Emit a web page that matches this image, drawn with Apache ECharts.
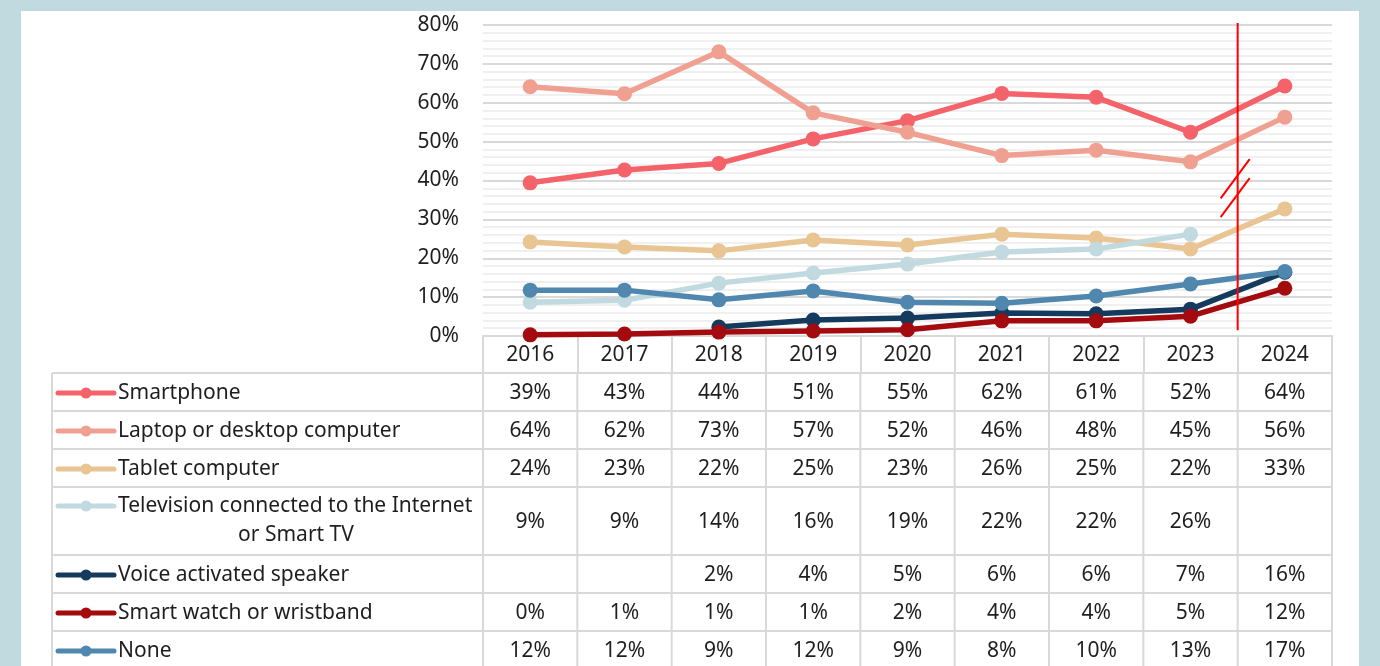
<!DOCTYPE html>
<html>
<head>
<meta charset="utf-8">
<script src="https://cdn.jsdelivr.net/npm/echarts@6/dist/echarts.min.js"></script>
<style>
  html, body { margin: 0; padding: 0; background: #c1dadf; }
  #panel { position: absolute; left: 21px; top: 11px; width: 1338px; height: 655px; background: #fff; }
  #chart { position: absolute; left: 0; top: 0; width: 1380px; height: 666px; }
</style>
</head>
<body>
<div id="panel"></div>
<div id="chart"></div>
<script>
const years = ['2016', '2017', '2018', '2019', '2020', '2021', '2022', '2023', '2024'];

// values (the table shows them rounded)
const smartphone = [39.4, 42.7, 44.4, 50.7, 55.4, 62.4, 61.4, 52.4, 64.3];
const laptop = [64.1, 62.3, 73.1, 57.4, 52.4, 46.4, 47.8, 44.8, 56.3];
const tablet = [24.2, 22.9, 21.9, 24.7, 23.4, 26.2, 25.2, 22.4, 32.7];
const smartTv = [8.7, 9.2, 13.6, 16.2, 18.5, 21.6, 22.4, 26.2, null];
const speaker = [null, null, 2.3, 4.1, 4.6, 5.9, 5.7, 6.9, 16.4];
const watch = [0.3, 0.5, 1.0, 1.3, 1.6, 3.9, 3.9, 5.1, 12.3];
const none = [11.8, 11.8, 9.3, 11.6, 8.7, 8.4, 10.3, 13.4, 16.6];

const rows = [
  { name: 'Smartphone', lines: ['Smartphone'], data: smartphone, color: '#f5636a', h: 38 },
  { name: 'Laptop or desktop computer', lines: ['Laptop or desktop computer'], data: laptop, color: '#f0a091', h: 38 },
  { name: 'Tablet computer', lines: ['Tablet computer'], data: tablet, color: '#e8c593', h: 38 },
  { name: 'Television connected to the Internet or Smart TV', lines: ['Television connected to the Internet', 'or Smart TV'], data: smartTv, color: '#c1dadf', h: 68 },
  { name: 'Voice activated speaker', lines: ['Voice activated speaker'], data: speaker, color: '#143a5e', h: 38 },
  { name: 'Smart watch or wristband', lines: ['Smart watch or wristband'], data: watch, color: '#a30b0f', h: 38 },
  { name: 'None', lines: ['None'], data: none, color: '#4f87ae', h: 38 }
];

const FONT = "'Noto Sans', 'DejaVu Sans', sans-serif";
const FS = 21;
const TXT = '#1e1e1e';
const BORDER = '#d9d9d9';

const chart = echarts.init(document.getElementById('chart'));

chart.setOption({
  animation: false,
  backgroundColor: 'transparent',
  textStyle: { fontFamily: FONT },
  grid: { left: 483, right: 48, top: 25, bottom: 330 },
  xAxis: {
    type: 'category',
    data: years,
    boundaryGap: true,
    axisLine: { lineStyle: { color: BORDER, width: 2 } },
    axisTick: { show: true, length: 37, interval: 0, lineStyle: { color: BORDER, width: 2 } },
    axisLabel: { color: TXT, fontSize: FS, margin: 9, fontFamily: FONT, interval: 0 }
  },
  yAxis: {
    type: 'value',
    min: 0,
    max: 80,
    interval: 10,
    axisLine: { show: false },
    axisTick: { show: false },
    axisLabel: { color: TXT, fontSize: FS, margin: 24, fontFamily: FONT, formatter: '{value}%' },
    splitLine: { lineStyle: { color: '#d9d9d9', width: 2 } },
    minorTick: { show: false, splitNumber: 5 },
    minorSplitLine: { show: true, lineStyle: { color: '#f0f0f0', width: 2 } }
  },
  series: rows.map(r => ({
    name: r.name,
    type: 'line',
    data: r.data,
    symbol: 'circle',
    symbolSize: 15,
    color: r.color,
    lineStyle: { width: 5.5, color: r.color },
    itemStyle: { color: r.color },
    connectNulls: false
  }))
});

// table under the plot + break annotation
const toX = i => chart.convertToPixel({ xAxisIndex: 0 }, i);
const toY = v => chart.convertToPixel({ yAxisIndex: 0 }, v);
const band = toX(1) - toX(0);
const plotLeft = toX(0) - band / 2;
const plotRight = toX(years.length - 1) + band / 2;
const tableLeft = 52;
const tableTop = toY(0) + 37;

const g = [];
let y = tableTop;
const rowTops = [];
rows.forEach(r => { rowTops.push(y); y += r.h; });
const tableBottom = y;

// horizontal borders
[tableTop, ...rowTops.slice(1), tableBottom].forEach(yy => {
  g.push({ type: 'line', shape: { x1: tableLeft, y1: yy, x2: plotRight, y2: yy }, style: { stroke: BORDER, lineWidth: 2 }, silent: true });
});
// vertical borders
g.push({ type: 'line', shape: { x1: tableLeft, y1: tableTop, x2: tableLeft, y2: tableBottom }, style: { stroke: BORDER, lineWidth: 2 }, silent: true });
for (let i = 0; i <= years.length; i++) {
  const xx = plotLeft + i * band;
  g.push({ type: 'line', shape: { x1: xx, y1: tableTop, x2: xx, y2: tableBottom }, style: { stroke: BORDER, lineWidth: 2 }, silent: true });
}

rows.forEach((r, ri) => {
  const top = rowTops[ri];
  const cy = top + r.h / 2 + 1;
  const firstLineY = r.lines.length > 1 ? top + 19 : cy;
  // legend key
  g.push({ type: 'line', shape: { x1: 58, y1: firstLineY, x2: 114, y2: firstLineY }, style: { stroke: r.color, lineWidth: 5, lineCap: 'round' }, silent: true });
  g.push({ type: 'circle', shape: { cx: 86, cy: firstLineY, r: 5.5 }, style: { fill: r.color }, silent: true });
  // name
  r.lines.forEach((ln, li) => {
    g.push({
      type: 'text',
      x: li === 0 ? 118 : 296,
      y: firstLineY + li * 29,
      style: { text: ln, fill: TXT, fontSize: FS, fontFamily: FONT, align: li === 0 ? 'left' : 'center', verticalAlign: 'middle' },
      silent: true
    });
  });
  // values
  r.data.forEach((v, i) => {
    if (v === null) return;
    g.push({
      type: 'text',
      x: toX(i),
      y: cy,
      style: { text: Math.round(v) + '%', fill: TXT, fontSize: FS, fontFamily: FONT, align: 'center', verticalAlign: 'middle' },
      silent: true
    });
  });
});

// axis break line between 2023 and 2024
const breakX = (toX(7) + toX(8)) / 2;
g.push({ type: 'line', z: 10, shape: { x1: breakX, y1: toY(80.5), x2: breakX, y2: toY(1.5) }, style: { stroke: '#ff0000', lineWidth: 2 }, silent: true });
[[45.5, 35.4], [40.6, 30.6]].forEach(([a, b]) => {
  g.push({ type: 'line', z: 10, shape: { x1: breakX + 12, y1: toY(a), x2: breakX - 17, y2: toY(b) }, style: { stroke: '#ff0000', lineWidth: 2 }, silent: true });
});

chart.setOption({ graphic: g });
</script>
</body>
</html>
